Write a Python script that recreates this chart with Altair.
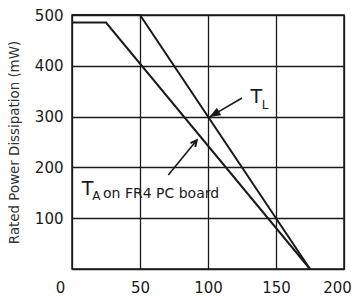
import altair as alt
import pandas as pd

# Curves: T_L (lead) and T_A (ambient on FR4 PC board)
tl_x = [0, 50, 175]
tl_y = [500, 500, 0]
ta_x = [0, 25, 175]
ta_y = [485, 485, 0]

x_ticks = [0, 25, 50, 75, 100, 125, 150, 175, 200]
y_ticks = [0, 100, 200, 300, 400, 500]

# Annotation arrows (tail -> tip) in data units
arrow_names = ["TA", "TL"]
arrow_x0 = [70.8, 125.0]
arrow_y0 = [185.0, 336.6]
arrow_x1 = [91.7, 101.0]
arrow_y1 = [253.3, 299.0]
arrow_angle = [39, 240]

FONT = "DejaVu Sans"
INK = "#1a1a1a"

curves = pd.DataFrame(
    {"x": tl_x + ta_x, "y": tl_y + ta_y, "series": ["TL"] * 3 + ["TA"] * 3}
)

xs = alt.Scale(domain=[0, 200], nice=False)
ys = alt.Scale(domain=[0, 500], nice=False)

x_axis = alt.Axis(
    values=x_ticks,
    labelExpr="datum.value % 50 == 0 ? datum.label : ''",
    grid=True, gridColor=INK, gridWidth=1.3, gridOpacity=1,
    ticks=False, domain=False, title=None, labelFlush=False,
    labelFont=FONT, labelFontSize=15, labelColor=INK, labelPadding=11,
    labelOffset={"condition": [{"test": "datum.value === 0", "value": -12},
                               {"test": "datum.value === 200", "value": -7}],
                 "value": 0},
)
y_axis = alt.Axis(
    values=y_ticks,
    labelExpr="datum.value == 0 ? '' : datum.label",
    grid=True, gridColor=INK, gridWidth=1.3, gridOpacity=1,
    ticks=False, domain=False, labelFlush=False,
    title="Rated Power Dissipation (mW)",
    titleFont=FONT, titleFontSize=13.4, titleFontWeight="normal", titleColor="#333333",
    titlePadding=13,
    labelFont=FONT, labelFontSize=15, labelColor=INK, labelPadding=9,
)

lines = alt.Chart(curves).mark_line(color=INK, strokeWidth=2).encode(
    x=alt.X("x:Q", scale=xs, axis=x_axis),
    y=alt.Y("y:Q", scale=ys, axis=y_axis),
    detail="series:N",
)

arrows = pd.DataFrame(
    {"name": arrow_names, "x0": arrow_x0, "y0": arrow_y0,
     "x1": arrow_x1, "y1": arrow_y1, "angle": arrow_angle}
)

shafts = alt.Chart(arrows).mark_rule(color=INK, strokeWidth=1.6).encode(
    x="x0:Q", y="y0:Q", x2="x1:Q", y2="y1:Q"
)

head_open = alt.Chart(arrows[arrows.name == "TA"]).mark_point(
    shape="M -0.5 1 L 0 0 L 0.5 1", filled=False, color=INK,
    strokeWidth=2, size=150, opacity=1,
).encode(x="x1:Q", y="y1:Q", angle=alt.Angle("angle:Q", scale=None))

head_filled = alt.Chart(arrows[arrows.name == "TL"]).mark_point(
    shape="M 0 0 L -0.38 1 L 0.38 1 Z", filled=True, color=INK,
    size=500, opacity=1,
).encode(x="x1:Q", y="y1:Q", angle=alt.Angle("angle:Q", scale=None))

# Labels
lab_text = ["T", "L", "T", "A", "on FR4 PC board"]
lab_x = [135.5, 142.0, 11.4, 18.0, 22.8]
lab_y = [326.8, 315.0, 145.7, 135.8, 139.0]
lab_size = [19, 12, 19, 12, 14]
lab_align = ["center", "center", "center", "center", "left"]
labels = pd.DataFrame({"t": lab_text, "x": lab_x, "y": lab_y,
                       "s": lab_size, "a": lab_align})

texts = []
for i in range(len(labels)):
    row = labels.iloc[[i]]
    texts.append(
        alt.Chart(row).mark_text(
            font=FONT, fontSize=int(lab_size[i]), color=INK,
            align=lab_align[i], baseline="alphabetic",
        ).encode(x="x:Q", y="y:Q", text="t:N")
    )

chart = alt.layer(lines, shafts, head_open, head_filled, *texts).properties(
    width=272, height=254,
    autosize=alt.AutoSizeParams(type="none"),
    padding={"left": 64, "top": 7, "right": 7, "bottom": 26},
    background="white",
).configure_view(stroke=INK, strokeWidth=1.5)

chart.save("out.html", embed_options={"renderer": "svg", "actions": False})
